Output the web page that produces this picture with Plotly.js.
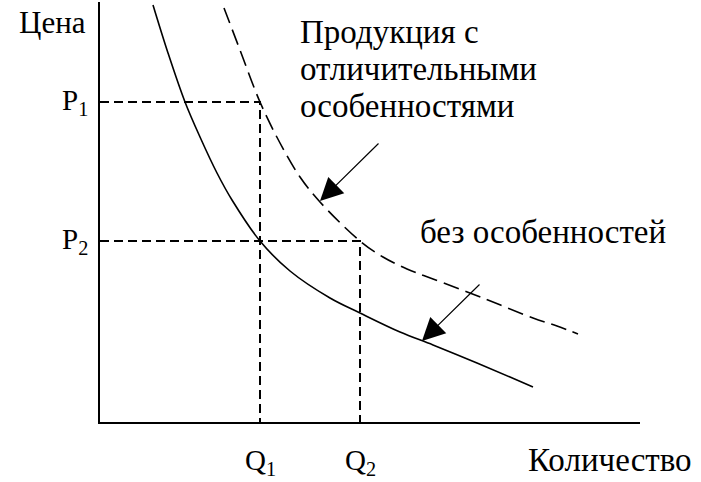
<!DOCTYPE html>
<html>
<head>
<meta charset="utf-8">
<script src="https://cdn.plot.ly/plotly-3.0.1.min.js"></script>
<style>html,body{margin:0;padding:0;background:#fff;}#chart{width:701px;height:482px;}</style>
</head>
<body>
<div id="chart"></div>
<script>
// Schematic values (quantity units, price units)
const solidQ = [5.3, 6.8, 8.5, 10.0, 11.7, 13.2, 16.0, 19.0, 23.0, 26.0, 30.0, 33.3, 37.7, 41.0, 43.3];
const solidP = [41.7, 36.9, 32.0, 28.5, 24.9, 22.2, 18.1, 15.1, 12.4, 10.9, 9.0, 7.7, 5.9, 4.5, 3.5];
const dashQ = [12.4, 14.0, 16.0, 18.0, 20.0, 22.0, 26.0, 28.3, 30.7, 33.3, 38.3, 43.3, 45.7, 47.8];
const dashP = [41.4, 37.2, 32.0, 27.9, 24.5, 22.0, 18.1, 16.5, 15.3, 14.3, 12.4, 10.4, 9.6, 8.8];
const Q1 = 16.0, Q2 = 26.0, P1 = 32.0, P2 = 18.1;
const arrowTipQ = [22.0, 32.2], arrowTipP = [22.1, 8.1];
const arrowTailQ = [28.0, 38.1], arrowTailP = [28.0, 13.9];
const labelP = ['P<sub>1</sub>', 'P<sub>2</sub>'];
const labelQ = ['Q<sub>1</sub>', 'Q<sub>2</sub>'];
const yTitle = 'Цена';
const xTitle = 'Количество';
const noteDistinct = ['Продукция с', 'отличительными', 'особенностями'];
const notePlain = 'без особенностей';

const FONT = 'Liberation Serif';
const guide = {color: '#000', width: 2, dash: '9px,5px'};

const traces = [
  {x: [0, Q1, Q1], y: [P1, P1, 0], mode: 'lines', line: guide, hoverinfo: 'skip'},
  {x: [0, Q2, Q2], y: [P2, P2, 0], mode: 'lines', line: guide, hoverinfo: 'skip'},
  {x: solidQ, y: solidP, mode: 'lines', line: {color: '#000', width: 1.6, shape: 'spline'}},
  {x: dashQ, y: dashP, mode: 'lines', line: {color: '#000', width: 1.6, shape: 'spline', dash: '16px,7px'}}
];

// paper-coordinate helpers for labels outside the plot area (axis range 54 x 42)
const XR = 54, YR = 42;
const ann = [];
const tf = (s) => ({family: FONT, size: s, color: '#000'});
const pl = (x, y, text, size, xa, ya) => ann.push({x: x / XR, y: y / YR, xref: 'paper', yref: 'paper', text: text, showarrow: false, font: tf(size), xanchor: xa, yanchor: ya});
pl(-4.8, 40.0, yTitle, 31, 'center', 'middle');
pl(-1.0, P1, labelP[0], 29, 'right', 'middle');
pl(-1.0, P2, labelP[1], 29, 'right', 'middle');
pl(Q1, -4.0, labelQ[0], 29, 'center', 'middle');
pl(Q2, -4.0, labelQ[1], 29, 'center', 'middle');
pl(50.95, -3.8, xTitle, 33, 'center', 'middle');
const noteY = [39.0, 35.3, 31.6];
for (let i = 0; i < noteDistinct.length; i++) {
  ann.push({x: 19.8, y: noteY[i], xref: 'x', yref: 'y', text: noteDistinct[i], showarrow: false, font: tf(33), xanchor: 'left', yanchor: 'middle'});
}
ann.push({x: 31.8, y: 19.0, xref: 'x', yref: 'y', text: notePlain, showarrow: false, font: tf(33), xanchor: 'left', yanchor: 'middle'});
for (let i = 0; i < arrowTipQ.length; i++) {
  ann.push({x: arrowTipQ[i], y: arrowTipP[i], ax: arrowTailQ[i], ay: arrowTailP[i], xref: 'x', yref: 'y', axref: 'x', ayref: 'y',
    text: '', showarrow: true, arrowhead: 2, arrowsize: 3.8, arrowwidth: 1.2, arrowcolor: '#000', standoff: 0});
}

const layout = {
  width: 701, height: 482,
  margin: {l: 100, r: 61, t: 2, b: 60, pad: 0},
  paper_bgcolor: '#fff', plot_bgcolor: '#fff',
  showlegend: false,
  font: {family: FONT},
  xaxis: {range: [0, XR], showgrid: false, zeroline: false, showticklabels: false, ticks: '', showline: true, linecolor: '#000', linewidth: 2, fixedrange: true},
  yaxis: {range: [0, YR], showgrid: false, zeroline: false, showticklabels: false, ticks: '', showline: true, linecolor: '#000', linewidth: 2, fixedrange: true},
  annotations: ann
};
Plotly.newPlot('chart', traces, layout, {displayModeBar: false, staticPlot: true});
</script>
</body>
</html>
